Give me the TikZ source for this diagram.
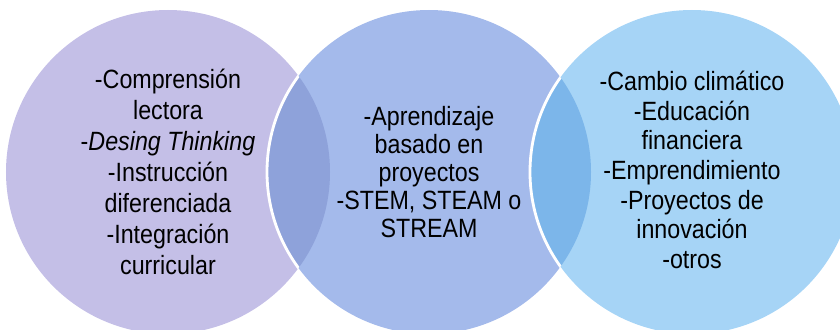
\documentclass[tikz,border=0pt]{standalone}
\usepackage{fontspec}
\setmainfont{Liberation Sans}[FakeStretch=0.88]
\definecolor{lavender}{RGB}{196,191,231}
\definecolor{periwinkle}{RGB}{164,186,235}
\definecolor{skyblue}{RGB}{166,212,246}
\definecolor{lensleft}{RGB}{142,162,218}
\definecolor{lensright}{RGB}{124,182,234}
\begin{document}
\begin{tikzpicture}[
        txt/.style={align=center, inner sep=0pt, text=black,
            font=\fontsize{18.8}{22.1}\selectfont},
        rim/.style={draw=white, line width=2pt}]
        \useasboundingbox (0,0) rectangle (21,8.25);
        \coordinate (lc) at (4.2,3.95);
        \coordinate (mc) at (10.725,3.95);
        \coordinate (rc) at (17.3,3.95);
        \fill[lavender] (lc) circle (4.05);
        \fill[periwinkle] (mc) circle (4.05);
        \fill[skyblue] (rc) circle (4.05);
        \begin{scope}
            \clip (lc) circle (4.05);
            \fill[lensleft] (mc) circle (4.05);
            \draw[rim] (mc) circle (4.05);
        \end{scope}
        \begin{scope}
            \clip (mc) circle (4.05);
            \fill[lensright] (rc) circle (4.05);
            \draw[rim] (rc) circle (4.05);
        \end{scope}
        \node[txt] (lefttext) at (lc) {-Comprensión\\lectora\\-\textit{Desing Thinking}\\-Instrucción\\diferenciada\\-Integración\\curricular};
        \node[txt, font=\fontsize{18.8}{19.8}\selectfont] (midtext) at (mc) {-Aprendizaje\\basado en\\proyectos\\-STEM, STEAM o\\STREAM};
        \node[txt, font=\fontsize{18.8}{21.1}\selectfont] (righttext) at ([yshift=0.05cm]rc) {-Cambio climático\\-Educación\\financiera\\-Emprendimiento\\-Proyectos de\\innovación\\-otros};
    \end{tikzpicture}
\end{document}
